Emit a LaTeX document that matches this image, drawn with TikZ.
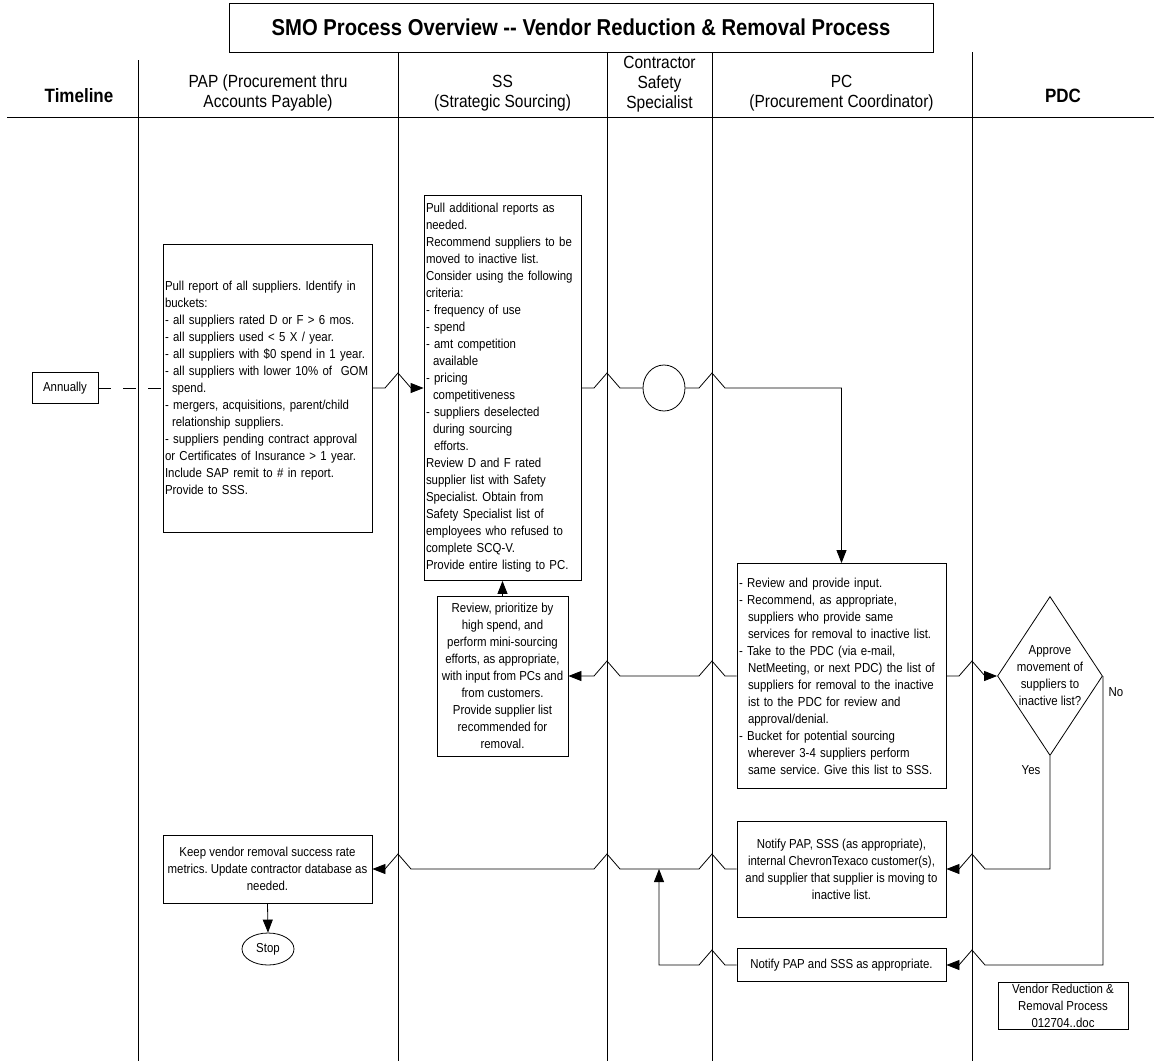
\documentclass[tikz,border=0pt]{standalone}
\usepackage{fontspec}
\setmainfont{Liberation Sans}[FakeStretch=0.88]
\usetikzlibrary{arrows.meta, shapes.geometric}
\frenchspacing
\newcommand{\boxfont}{\fontsize{13}{17}\selectfont}
\newcommand{\lanefont}{\fontsize{17.6}{20}\selectfont}
\newcommand{\bigfont}{\fontsize{19.3}{22}\selectfont\bfseries}
\newcommand{\ttlfont}{\fontsize{23}{26}\selectfont\bfseries}

\begin{document}
\begin{tikzpicture}[x=1pt, y=-1pt, line width=0.8pt,
		box/.style={draw, inner sep=2pt, font=\boxfont},
		flow/.style={-{Triangle[length=13pt, width=10pt]}},
		lanehd/.style={font=\lanefont, align=center}]
				\useasboundingbox (0,0) rectangle (1154,1061);

				\node[draw, minimum width=704, minimum height=49, font=\ttlfont] (title) at (581,27.5) {SMO Process Overview -{}- Vendor Reduction \& Removal Process};

				\node[font=\bigfont] (hdtime) at (79,96) {Timeline};
				\node[lanehd] (hdpap) at (268,93) {PAP (Procurement thru\\Accounts Payable)};
				\node[lanehd] (hdss) at (502.5,93) {SS\\(Strategic Sourcing)};
				\node[lanehd] (hdcss) at (659.5,84) {Contractor\\Safety\\Specialist};
				\node[lanehd] (hdpc) at (841.5,93) {PC\\(Procurement Coordinator)};
				\node[font=\bigfont] (hdpdc) at (1063,96) {PDC};

				\draw (7,117) -- (1154,117);
				\draw (138,60) -- (138,1061);
				\draw (398,52) -- (398,1061);
				\draw (607,52) -- (607,1061);
				\draw (712,52) -- (712,1061);
				\draw (972,52) -- (972,1061);

				\node[box, minimum width=66, minimum height=31] (annual) at (65,388) {Annually};

				\node[box, text width=205, minimum height=288, align=left] (pap) at (267.5,388) {Pull report of all suppliers. Identify in\\buckets:\\- all suppliers rated D or F > 6 mos.\\- all suppliers used < 5 X / year.\\- all suppliers with \$0 spend in 1 year.\\- all suppliers with lower 10\%~of~~GOM\\\hspace*{7pt}spend.\\- mergers, acquisitions, parent/child\\\hspace*{7pt}relationship suppliers.\\- suppliers pending contract approval\\or Certificates of Insurance > 1 year.\\Include SAP remit to \# in report.\\Provide to SSS.};

				\node[box, text width=153, minimum height=385, align=left] (ssbig) at (502.5,388) {Pull additional reports as\\needed.\\Recommend suppliers to be\\moved to inactive list.\\Consider using the following\\criteria:\\- frequency of use\\- spend\\- amt competition\\\hspace*{7pt}available\\- pricing\\\hspace*{7pt}competitiveness\\- suppliers deselected\\\hspace*{7pt}during sourcing\\\hspace*{8pt}efforts.\\Review D and F rated\\supplier list with Safety\\Specialist. Obtain from\\Safety Specialist list of\\employees who refused to\\complete SCQ-V.\\Provide entire listing to PC.};

				\node[draw, ellipse, minimum width=42, minimum height=46, inner sep=0] (chk) at (664,388) {};

				\node[box, minimum width=131, minimum height=160, align=center] (sssmall) at (502.5,676) {Review, prioritize by\\high spend, and\\perform mini-sourcing\\efforts, as appropriate,\\with input from PCs and\\from customers.\\Provide supplier list\\recommended for\\removal.};

				\node[box, text width=205, minimum height=225, align=left] (pc) at (841.5,676) {- Review and provide input.\\- Recommend, as appropriate,\\\hspace*{9pt}suppliers who provide same\\\hspace*{9pt}services for removal to inactive list.\\- Take to the PDC (via e-mail,\\\hspace*{9pt}NetMeeting, or next PDC) the list of\\\hspace*{9pt}suppliers for removal to the inactive\\\hspace*{9pt}ist to the PDC for review and\\\hspace*{9pt}approval/denial.\\- Bucket for potential sourcing\\\hspace*{9pt}wherever 3-4 suppliers perform\\\hspace*{9pt}same service. Give this list to SSS.};

				\node[draw, diamond, minimum width=105, minimum height=159, inner sep=0] (approve) at (1050,676) {};
				\node[font=\boxfont, align=center] (approvetxt) at (approve.center) {Approve\\movement of\\suppliers to\\inactive list?};

				\node[box, minimum width=209, minimum height=96, align=center] (notify1) at (841.5,869) {Notify PAP, SSS (as appropriate),\\internal ChevronTexaco customer(s),\\and supplier that supplier is moving to\\inactive list.};
				\node[box, minimum width=209, minimum height=33] (notify2) at (841.5,965) {Notify PAP and SSS as appropriate.};

				\node[box, minimum width=209, minimum height=68, align=center] (keep) at (267.5,869) {Keep vendor removal success rate\\metrics. Update contractor database as\\needed.};
				\node[box, ellipse, minimum width=52, minimum height=32, inner sep=0] (stop) at (268,949) {Stop};

				\node[box, minimum width=130, minimum height=47, inner sep=0, align=center] (doc) at (1063,1005.5) {Vendor Reduction \&\\Removal Process\\012704..doc};

				\node[font=\boxfont] (nolbl) at (1116,692) {No};
				\node[font=\boxfont] (yeslbl) at (1031,770) {Yes};

				\coordinate (join) at (659,869);

				\draw[dash pattern=on 13pt off 12pt] (annual.east) -- (pap.west);
				\draw[flow] (pap.east) -- (385,388) -- (398,373) -- (411,388) -- (ssbig.west);
				\draw (ssbig.east) -- (594,388) -- (607,373) -- (620,388) -- (chk.west);
				\draw[flow] (chk.east) -- (699,388) -- (712,373) -- (725,388) -| (pc.north);
				\draw[flow] (pc.west) -- (725,676) -- (712,661) -- (699,676) -- (620,676) -- (607,661) -- (594,676) -- (sssmall.east);
				\draw[flow] (sssmall.north) -- (ssbig.south);
				\draw[flow] (pc.east) -- (959,676) -- (972,661) -- (985,676) -- (approve.west);
				\draw[flow] (approve.east) |- (985,965) -- (972,950) -- (959,965) -- (notify2.east);
				\draw[flow] (approve.south) |- (985,869) -- (972,854) -- (959,869) -- (notify1.east);
				\draw[flow] (notify1.west) -- (725,869) -- (712,854) -- (699,869) -- (620,869) -- (607,854) -- (594,869) -- (411,869) -- (398,854) -- (385,869) -- (keep.east);
				\draw[flow] (notify2.west) -- (725,965) -- (712,950) -- (699,965) -| (join);
				\draw[flow] (keep.south) -- (stop.north);

			\end{tikzpicture}
\end{document}
